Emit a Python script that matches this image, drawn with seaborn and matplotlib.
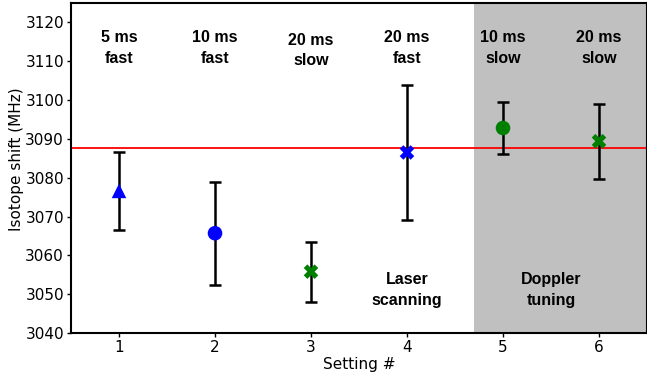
import matplotlib
matplotlib.use("Agg")
import matplotlib.pyplot as plt
import seaborn as sns
import pandas as pd

# Isotope shift measured for each setting, with 1-sigma uncertainty
settings = [1, 2, 3, 4, 5, 6]
shift = [3076.6, 3065.7, 3055.8, 3086.5, 3092.8, 3089.4]
shift_err = [10.0, 13.3, 7.7, 17.5, 6.6, 9.7]
setting_labels = ["5 ms\nfast", "10 ms\nfast", "20 ms\nslow",
                  "20 ms\nfast", "10 ms\nslow", "20 ms\nslow"]
marker_kind = ["tri", "dot", "cross_g", "cross_b", "dot_g", "cross_g2"]
reference_shift = 3087.7

df = pd.DataFrame({"setting": settings, "shift": shift,
                   "err": shift_err, "kind": marker_kind})

sns.set_style("ticks", rc={"text.color": "black", "axes.labelcolor": "black",
                           "xtick.color": "black", "ytick.color": "black",
                           "axes.edgecolor": "black"})
plt.rcParams["font.family"] = ["DejaVu Sans"]

fig = plt.figure(figsize=(6.47, 3.76), dpi=100)
ax = fig.add_axes([71 / 647, 43 / 376, 1 - 71 / 647, 330 / 376])

# Doppler-tuning region
ax.axvspan(4.7, 6.5, color="#c0c0c0", lw=0, zorder=0)

ax.axhline(reference_shift, color="red", lw=1.3, zorder=1)

ax.errorbar(df["setting"], df["shift"], yerr=df["err"], fmt="none",
            ecolor="black", elinewidth=1.8, capsize=4, capthick=1.8, zorder=2)

palette = {"tri": "blue", "dot": "blue", "cross_g": "green", "cross_b": "blue",
           "dot_g": "green", "cross_g2": "green"}
markers = {"tri": "^", "dot": "o", "cross_g": "X", "cross_b": "X",
           "dot_g": "o", "cross_g2": "X"}
sns.scatterplot(data=df, x="setting", y="shift", hue="kind", style="kind",
                palette=palette, markers=markers, s=110, edgecolor="none",
                legend=False, ax=ax, zorder=3)

bold = dict(fontsize=11.5, fontweight="bold", ha="center", va="center",
            color="black", linespacing=1.47,
            family=["Liberation Sans", "DejaVu Sans"])
for x, lab in zip(settings, setting_labels):
    ax.text(x, 3113.4 if x != 3 else 3112.8, lab, **bold)
ax.text(4.0, 3051.0, "Laser\nscanning", **bold)
ax.text(5.5, 3051.0, "Doppler\ntuning", **bold)

ax.set_xlim(0.5, 6.5)
ax.set_ylim(3040, 3125)
ax.set_xticks(settings)
ax.set_yticks(range(3040, 3121, 10))
ax.tick_params(labelsize=11, length=3, width=1, pad=2)
ax.set_xlabel("Setting #", fontsize=11, labelpad=1.5)
ax.set_ylabel("Isotope shift (MHz)", fontsize=11)
ax.yaxis.set_label_coords(-0.081, 0.527)
for side in ["left", "bottom", "top", "right"]:
    ax.spines[side].set_linewidth(1.5)

fig.savefig("out.png", dpi=100)
